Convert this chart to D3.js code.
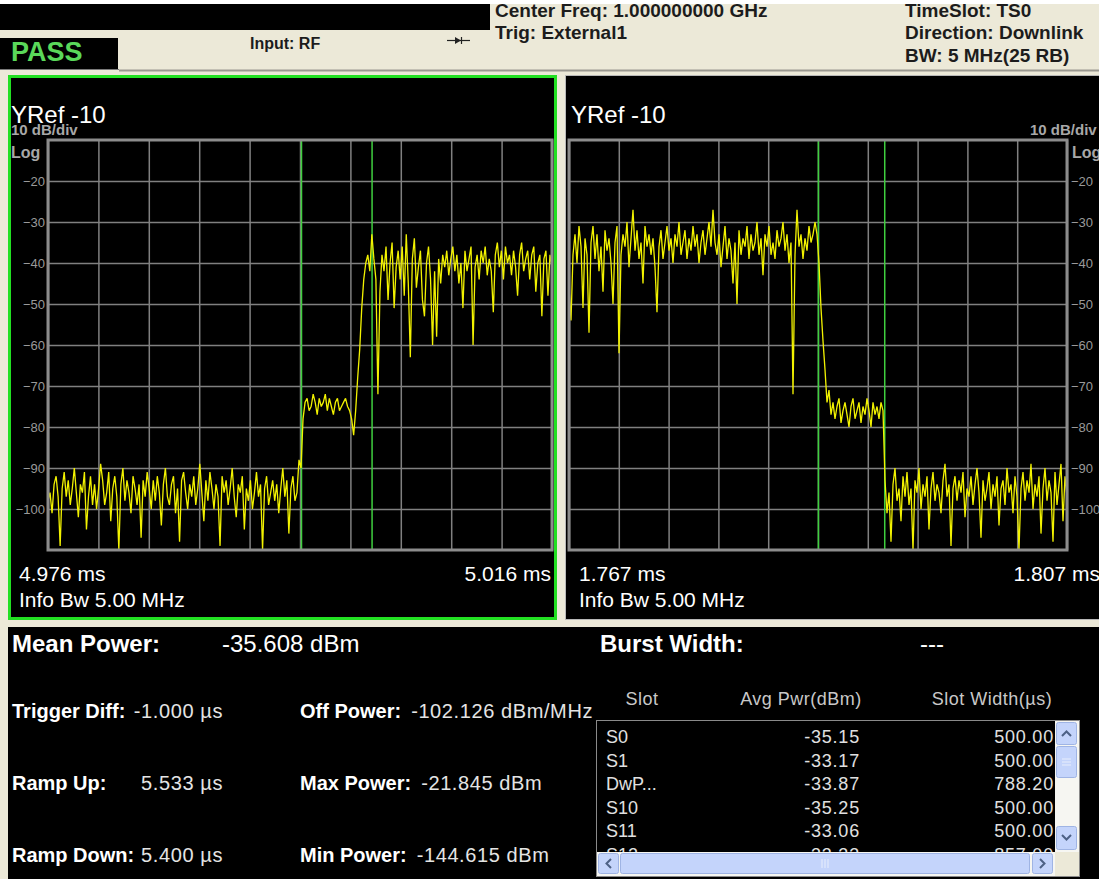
<!DOCTYPE html>
<html>
<head>
<meta charset="utf-8">
<script src="https://cdn.jsdelivr.net/npm/d3@7"></script>
<style>
  html, body { margin: 0; padding: 0; background: #ece9d8; overflow: hidden; }
  svg { display: block; }
  text { font-family: "Liberation Sans", Arial, sans-serif; }
</style>
</head>
<body>
<svg id="screen" width="1099" height="879"></svg>
<script>
// ---------------- measurement data ----------------
const leftWindow = [4.976, 5.016];    // ms, left (ramp-up) view
const rightWindow = [1.767, 1.807];   // ms, right (ramp-down) view
const leftMarkers = [4.99612, 5.00172];
const rightMarkers = [1.78703, 1.79236];
const yRef = -10;
const yBottom = -110;
const yTicks = [-20, -30, -40, -50, -60, -70, -80, -90, -100];

// Ramp-up trace (dBm), evenly sampled across the left window
const leftTrace = [
  -98, -96, -101, -94, -92, -97, -109, -95, -91, -97,
  -93, -99, -95, -90, -96, -102, -94, -96, -91, -105,
  -97, -92, -99, -94, -100, -95, -89, -93, -99, -96,
  -91, -103, -95, -92, -97, -110, -94, -90, -98, -93,
  -96, -101, -92, -95, -99, -94, -107, -93, -97, -91,
  -95, -100, -93, -98, -92, -96, -104, -94, -90, -97,
  -99, -94, -92, -101, -95, -108, -93, -91, -96, -100,
  -94, -97, -92, -99, -95, -89, -96, -103, -93, -98,
  -91, -95, -100, -94, -97, -109, -92, -96, -93, -99,
  -95, -90, -97, -102, -94, -96, -92, -105, -95, -98,
  -93, -100, -96, -91, -97, -94, -110, -95, -92, -99,
  -96, -93, -98, -94, -101, -95, -90, -97, -93, -106,
  -95, -92, -98, -96, -88, -90,
  -78, -74, -73, -76, -75, -72, -74, -77, -73, -75,
  -74, -72, -76, -73, -75, -77, -74, -73, -76, -75,
  -74, -73, -75, -76,
  -78, -82, -76, -68, -61, -51, -44, -40, -38, -42, -33, -39, -44, -72,
  -47, -38, -42, -36, -49, -40, -35, -51, -41, -37,
  -44, -36, -48, -33, -45, -63, -39, -34, -46, -41,
  -37, -49, -53, -40, -36, -44, -60, -42, -58, -39,
  -45, -38, -41, -37, -43, -39, -36, -42, -38, -45,
  -40, -51, -37, -42, -39, -36, -60, -41, -38, -44,
  -37, -40, -36, -43, -39, -42, -52, -38, -35, -41,
  -37, -44, -36, -40, -38, -43, -37, -41, -48, -38,
  -35, -42, -39, -37, -44, -38, -36, -47, -40, -38,
  -53, -39, -37, -48, -38, -41
];

// Ramp-down trace (dBm), evenly sampled across the right window
const rightTrace = [
  -46, -54, -38, -33, -40, -31, -36, -51, -34, -38,
  -57, -35, -31, -39, -33, -42, -36, -47, -32, -37,
  -34, -40, -50, -35, -31, -62, -38, -33, -36, -30,
  -41, -34, -27, -37, -32, -39, -35, -45, -31, -36,
  -33, -38, -34, -41, -52, -36, -32, -39, -35, -31,
  -37, -34, -40, -33, -36, -30, -38, -35, -32, -39,
  -34, -37, -31, -36, -33, -40, -35, -32, -38, -34,
  -30, -36, -27, -35, -38, -33, -41, -36, -31, -39,
  -34, -37, -45, -35, -50, -32, -38, -34, -36, -31,
  -39, -33, -37, -35, -30, -38, -34, -43, -33, -36,
  -31, -38, -35, -39, -32, -36, -34, -30, -37, -33,
  -40, -35, -72, -38, -27, -36, -33, -39, -34, -37,
  -31, -35, -33, -30, -33,
  -40, -51, -59, -66, -74, -71, -77,
  -74, -78, -75, -73, -79, -76, -74, -77, -80, -75,
  -73, -78, -76, -74, -79, -75, -77, -73, -76, -80,
  -74, -77, -75, -78, -74, -76,
  -93, -101, -96, -108, -94, -90, -98, -95, -103, -92,
  -97, -91, -99, -95, -110, -93, -96, -90, -100, -94,
  -97, -92, -105, -95, -91, -98, -94, -96, -101, -93,
  -89, -97, -94, -109, -95, -92, -98, -93, -96, -91,
  -102, -95, -97, -92, -99, -94, -90, -96, -107, -93,
  -98, -95, -91, -100, -94, -97, -92, -104, -95, -93,
  -99, -90, -96, -94, -101, -92, -97, -110, -95, -91,
  -98, -93, -96, -89, -100, -94, -97, -92, -106, -95,
  -90, -98, -93, -96, -108, -91, -99, -94, -89, -103,
  -92, -97
];

// Result summary
const meanPower = "-35.608 dBm";
const burstWidth = "---";
const timingLabels = ["Trigger Diff:", "Ramp Up:", "Ramp Down:"];
const timingValues = ["-1.000 µs", "5.533 µs", "5.400 µs"];
const powerLabels = ["Off Power:", "Max Power:", "Min Power:"];
const powerValues = ["-102.126 dBm/MHz", "-21.845 dBm", "-144.615 dBm"];

// Slot table
const tableColumns = ["Slot", "Avg Pwr(dBm)", "Slot Width(µs)"];
const slotNames = ["S0", "S1", "DwP...", "S10", "S11", "S12"];
const slotPower = ["-35.15", "-33.17", "-33.87", "-35.25", "-33.06", "-33.33"];
const slotWidth = ["500.00", "500.00", "788.20", "500.00", "500.00", "857.00"];

// ---------------- drawing ----------------
const W = 1099, H = 879;
const svg = d3.select("#screen");
const BEIGE = "#ece9d8";
const TRACE = "#f2f200";
const MARKER = "#3fcf3f";
const GRID = "#808080";

svg.append("rect").attr("width", W).attr("height", H).attr("fill", BEIGE);

// ----- status bar -----
const hdr = svg.append("g");
hdr.append("rect").attr("x", 0).attr("y", 4).attr("width", 490).attr("height", 26).attr("fill", "#000");
hdr.append("rect").attr("x", 0).attr("y", 38).attr("width", 118).attr("height", 31).attr("fill", "#000");
hdr.append("line").attr("x1", 0).attr("x2", 119).attr("y1", 69.5).attr("y2", 69.5).attr("stroke", "#7a7a7a").attr("stroke-width", 1);
hdr.append("text").attr("x", 11).attr("y", 61).attr("fill", "#5ad85a")
  .attr("font-size", 27).attr("font-weight", "bold").text("PASS");
hdr.append("text").attr("x", 250).attr("y", 49).attr("fill", "#1c1c1c")
  .attr("font-size", 16).attr("font-weight", "bold").text("Input: RF");
// external trigger symbol
hdr.append("line").attr("x1", 447).attr("x2", 470).attr("y1", 40.5).attr("y2", 40.5).attr("stroke", "#222").attr("stroke-width", 1.2);
hdr.append("path").attr("d", "M455,37 L461,40.5 L455,44 Z").attr("fill", "#222");
hdr.append("line").attr("x1", 461.5).attr("x2", 461.5).attr("y1", 37).attr("y2", 44).attr("stroke", "#222").attr("stroke-width", 1.2);

const hdrText = [
  { x: 495, y: 17, t: "Center Freq: 1.000000000 GHz" },
  { x: 495, y: 39, t: "Trig: External1" },
  { x: 905, y: 17, t: "TimeSlot: TS0" },
  { x: 905, y: 39, t: "Direction: Downlink" },
  { x: 905, y: 62, t: "BW: 5 MHz(25 RB)" }
];
hdr.selectAll("text.info").data(hdrText).join("text").attr("class", "info")
  .attr("x", d => d.x).attr("y", d => d.y).attr("fill", "#1c1c1c")
  .attr("font-size", 19).attr("font-weight", "bold").text(d => d.t);
hdr.append("rect").attr("x", 0).attr("y", 0).attr("width", W).attr("height", 4).attr("fill", "#fff");
hdr.append("line").attr("x1", 119).attr("x2", W).attr("y1", 70.5).attr("y2", 70.5).attr("stroke", "#9a9890").attr("stroke-width", 2);

// ----- trace panels -----
function drawPanel(p) {
  const g = svg.append("g");
  g.append("rect").attr("x", p.px).attr("y", 75).attr("width", p.pw).attr("height", 545).attr("fill", "#000");

  const x = d3.scaleLinear().domain(p.window).range([p.x0, p.x1]);
  const y = d3.scaleLinear().domain([yBottom, yRef]).range([p.y1, p.y0]);
  const plotW = p.x1 - p.x0, plotH = p.y1 - p.y0;

  // division grid
  const divs = d3.range(11).map(k => p.window[0] + k * (p.window[1] - p.window[0]) / 10);
  g.append("g").attr("transform", `translate(0,${p.y1})`)
    .call(d3.axisBottom(x).tickValues(divs).tickSize(-plotH).tickFormat(""))
    .call(a => a.select(".domain").remove())
    .call(a => a.selectAll("line").attr("stroke", GRID).attr("stroke-width", 1.5));
  g.append("g").attr("transform", `translate(${p.x0},0)`)
    .call(d3.axisLeft(y).tickValues(yTicks).tickSize(-plotW).tickFormat(""))
    .call(a => a.select(".domain").remove())
    .call(a => a.selectAll("line").attr("stroke", GRID).attr("stroke-width", 1.5));

  // amplitude labels
  const lab = p.labelSide === "left"
    ? d3.axisLeft(y).tickValues(yTicks).tickSize(0).tickPadding(3)
    : d3.axisRight(y).tickValues(yTicks).tickSize(0).tickPadding(4);
  g.append("g").attr("transform", `translate(${p.labelSide === "left" ? p.x0 : p.x1},0)`)
    .call(lab)
    .call(a => a.select(".domain").remove())
    .call(a => a.selectAll("text").attr("fill", "#9a9a9a").attr("font-size", 13)
      .attr("font-family", '"Liberation Sans", Arial, sans-serif'));

  // markers
  g.selectAll("line.marker").data(p.markers).join("line").attr("class", "marker")
    .attr("x1", d => x(d)).attr("x2", d => x(d)).attr("y1", p.y0).attr("y2", p.y1)
    .attr("stroke", MARKER).attr("stroke-width", 1.5);

  // trace
  const clipId = "clip-" + p.labelSide;
  svg.append("defs").append("clipPath").attr("id", clipId)
    .append("rect").attr("x", p.x0).attr("y", p.y0).attr("width", plotW).attr("height", plotH);
  const t = d3.scaleLinear().domain([0, p.trace.length - 1]).range(p.window);
  g.append("path").datum(p.trace).attr("clip-path", `url(#${clipId})`)
    .attr("fill", "none").attr("stroke", TRACE).attr("stroke-width", 1.3).attr("stroke-linejoin", "bevel")
    .attr("d", d3.line().x((d, i) => x(t(i))).y(d => y(d)));

  // plot frame
  g.append("rect").attr("x", p.x0).attr("y", p.y0).attr("width", plotW).attr("height", plotH)
    .attr("fill", "none").attr("stroke", "#8c8c8c").attr("stroke-width", 3);

  // annotations
  g.append("text").attr("x", p.tx).attr("y", 123).attr("fill", "#fff").attr("font-size", 24).text("YRef " + yRef);
  const scaleTxt = g.append("text").attr("y", 135).attr("fill", "#a8a8a8").attr("font-size", 15).attr("font-weight", "bold").text("10 dB/div");
  const logTxt = g.append("text").attr("y", 158).attr("fill", "#a8a8a8").attr("font-size", 16).attr("font-weight", "bold").text("Log");
  if (p.labelSide === "left") {
    scaleTxt.attr("x", 11);
    logTxt.attr("x", 11);
  } else {
    scaleTxt.attr("x", 1030);
    logTxt.attr("x", 1072);
  }
  g.append("text").attr("x", p.tx + 8).attr("y", 581).attr("fill", "#fff").attr("font-size", 21).text(p.window[0].toFixed(3) + " ms");
  g.append("text").attr("x", p.endX).attr("y", 581).attr("text-anchor", "end").attr("fill", "#fff").attr("font-size", 21).text(p.window[1].toFixed(3) + " ms");
  g.append("text").attr("x", p.tx + 8).attr("y", 607).attr("fill", "#fff").attr("font-size", 21).text("Info Bw 5.00 MHz");
}

drawPanel({ px: 565, pw: 534, x0: 569, x1: 1067, y0: 140, y1: 550, window: rightWindow, trace: rightTrace,
  markers: rightMarkers, labelSide: "right", tx: 571, endX: 1100 });
drawPanel({ px: 8, pw: 549, x0: 48, x1: 552, y0: 140, y1: 550, window: leftWindow, trace: leftTrace,
  markers: leftMarkers, labelSide: "left", tx: 11, endX: 551 });

// active-window highlight
svg.append("rect").attr("x", 9.5).attr("y", 76.5).attr("width", 546).attr("height", 542)
  .attr("fill", "none").attr("stroke", "#22e022").attr("stroke-width", 3);
svg.append("rect").attr("x", 565.5).attr("y", 75.5).attr("width", 540).attr("height", 544)
  .attr("fill", "none").attr("stroke", "#b8b8b8").attr("stroke-width", 1);

// ----- result area -----
const res = svg.append("g");
res.append("rect").attr("x", 8).attr("y", 627).attr("width", W - 8).attr("height", H - 627).attr("fill", "#000");
res.append("text").attr("x", 12).attr("y", 652).attr("fill", "#fff").attr("font-size", 24).attr("font-weight", "bold").text("Mean Power:");
res.append("text").attr("x", 222).attr("y", 652).attr("fill", "#fff").attr("font-size", 24).text(meanPower);
res.append("text").attr("x", 600).attr("y", 652).attr("fill", "#fff").attr("font-size", 24).attr("font-weight", "bold").text("Burst Width:");
res.append("text").attr("x", 920).attr("y", 652).attr("fill", "#fff").attr("font-size", 24).text(burstWidth);

const rowY = [718, 790, 862];
timingLabels.forEach((l, i) => {
  res.append("text").attr("x", 12).attr("y", rowY[i]).attr("fill", "#fff").attr("font-size", 20).attr("font-weight", "bold").text(l);
  res.append("text").attr("x", 223).attr("y", rowY[i]).attr("text-anchor", "end").attr("fill", "#e4e4e4")
    .attr("font-size", 20).attr("letter-spacing", 0.6).text(timingValues[i]);
});
powerLabels.forEach((l, i) => {
  const tx = res.append("text").attr("x", 300).attr("y", rowY[i]).attr("fill", "#fff").attr("font-size", 20);
  tx.append("tspan").attr("font-weight", "bold").text(l);
  tx.append("tspan").attr("dx", 10).attr("fill", "#e4e4e4").attr("letter-spacing", 0.6).text(powerValues[i]);
});

// ----- slot table -----
const tb = svg.append("g");
const colHead = [642, 801, 992];
tb.selectAll("text.head").data(tableColumns).join("text").attr("class", "head")
  .attr("x", (d, i) => colHead[i]).attr("y", 705).attr("text-anchor", "middle")
  .attr("fill", "#c8c8c8").attr("font-size", 18).attr("letter-spacing", 0.5).text(d => d);

tb.append("rect").attr("x", 596.5).attr("y", 720.5).attr("width", 483).attr("height", 156)
  .attr("fill", "#000").attr("stroke", "#8a8a8a");
svg.append("defs").append("clipPath").attr("id", "clip-table")
  .append("rect").attr("x", 597).attr("y", 721).attr("width", 458).attr("height", 131);
const rows = tb.append("g").attr("clip-path", "url(#clip-table)");
const rowBase = i => 743 + i * 23.5;
rows.selectAll("text.name").data(slotNames).join("text").attr("class", "name")
  .attr("x", 606).attr("y", (d, i) => rowBase(i)).attr("fill", "#e0e0e0").attr("font-size", 18).text(d => d);
rows.selectAll("text.pwr").data(slotPower).join("text").attr("class", "pwr")
  .attr("x", 860).attr("y", (d, i) => rowBase(i)).attr("text-anchor", "end").attr("fill", "#e0e0e0")
  .attr("font-size", 18).attr("letter-spacing", 0.8).text(d => d);
rows.selectAll("text.wid").data(slotWidth).join("text").attr("class", "wid")
  .attr("x", 1054).attr("y", (d, i) => rowBase(i)).attr("text-anchor", "end").attr("fill", "#e0e0e0")
  .attr("font-size", 18).attr("letter-spacing", 0.8).text(d => d);

// scroll bars
const SB = "#c4d4fb", SBS = "#9fb4e4", GLYPH = "#4d6185";
tb.append("rect").attr("x", 1055).attr("y", 721).attr("width", 24).attr("height", 131).attr("fill", "#f6f6f2");
tb.append("rect").attr("x", 597).attr("y", 852).attr("width", 458).attr("height", 24).attr("fill", "#f6f6f2");
tb.append("rect").attr("x", 1055).attr("y", 852).attr("width", 24).attr("height", 24).attr("fill", BEIGE);
const btn = (x, y, w, h) => tb.append("rect").attr("x", x).attr("y", y).attr("width", w).attr("height", h)
  .attr("rx", 2).attr("fill", SB).attr("stroke", SBS);
btn(1056.5, 722.5, 20, 22); btn(1056.5, 746.5, 20, 31); btn(1056.5, 826.5, 20, 23);
btn(598.5, 853.5, 20, 20); btn(620.5, 853.5, 409, 20); btn(1032.5, 853.5, 20, 20);
const glyph = d => tb.append("path").attr("d", d).attr("fill", "none").attr("stroke", GLYPH).attr("stroke-width", 2);
glyph("M1062,736 L1066.5,731.5 L1071,736");
glyph("M1062,835 L1066.5,839.5 L1071,835");
glyph("M611,859 L606.5,863.5 L611,868");
glyph("M1040,859 L1044.5,863.5 L1040,868");
[-3, 0, 3].forEach(d => {
  tb.append("line").attr("x1", 1062).attr("x2", 1071).attr("y1", 762 + d).attr("y2", 762 + d).attr("stroke", "#e8eefc");
  tb.append("line").attr("x1", 825 + d).attr("x2", 825 + d).attr("y1", 859).attr("y2", 868).attr("stroke", "#e8eefc");
});
</script>
</body>
</html>
